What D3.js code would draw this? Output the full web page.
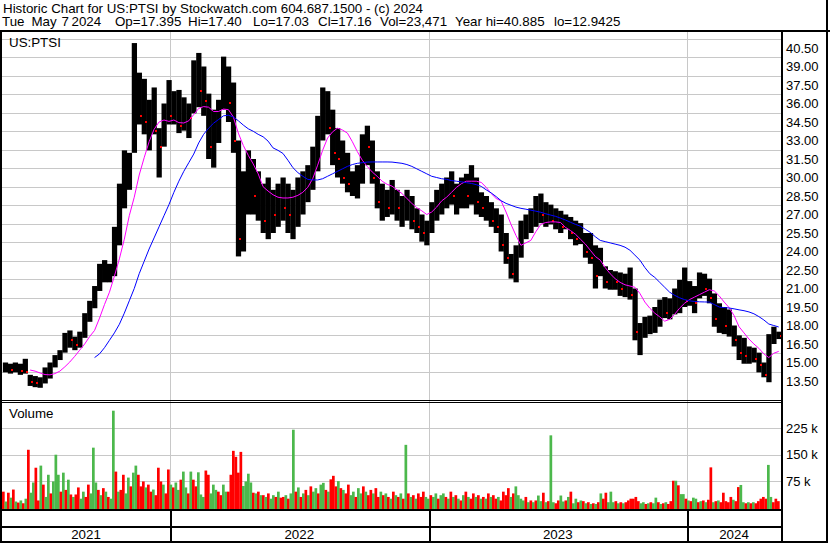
<!DOCTYPE html>
<html><head><meta charset="utf-8">
<script src="https://cdn.jsdelivr.net/npm/d3@7"></script>
<style>html,body{margin:0;padding:0;background:#fff;overflow:hidden}svg{display:block}</style>
</head><body><svg id="c" width="830" height="543"></svg>
<script>
// ---------------- DATA ----------------
const firstWeek = new Date(2021, 4, 10); // Monday of first weekly bar
const priceHigh = [15.0,14.9,15.0,14.9,15.3,14.0,13.9,13.8,14.6,15.0,
15.6,16.0,17.4,17.6,17.1,17.5,19.0,20.0,21.2,23.0,
23.3,23.0,26.0,29.5,32.2,32.0,40.9,38.5,38.0,36.3,
37.3,34.0,36.0,37.9,37.0,37.1,36.5,36.0,39.5,40.1,
39.0,36.8,35.5,36.3,39.8,39.0,37.7,33.0,30.5,32.2,
31.5,30.5,29.5,30.0,29.0,29.5,30.0,29.5,29.0,30.0,
30.5,31.0,32.5,35.0,37.3,37.0,35.5,34.0,33.0,32.0,
30.5,31.0,33.5,34.2,33.0,30.5,29.5,29.0,29.8,29.0,
28.5,29.0,28.5,27.5,27.0,26.5,28.0,29.0,29.5,30.0,
30.5,29.5,30.0,30.3,31.0,30.0,28.8,28.5,28.0,27.5,
27.0,25.5,23.8,24.5,26.5,27.0,27.5,28.5,28.7,28.0,
27.8,27.5,27.3,27.0,26.8,26.5,26.3,25.5,25.5,24.5,
24.3,22.8,22.5,22.4,22.3,22.2,22.7,21.0,18.2,18.7,
18.8,19.5,20.1,20.3,20.2,21.0,21.7,22.7,21.6,21.2,
22.3,22.2,21.8,20.6,19.8,19.5,19.3,18.0,17.2,17.0,
16.3,16.2,15.8,15.0,17.3,17.9,17.5];
const priceLow = [14.2,14.1,14.2,14.0,14.1,13.1,13.0,12.95,13.3,13.7,
14.6,15.2,15.8,16.2,16.0,16.2,17.0,18.3,19.4,20.8,
21.5,21.5,22.0,24.5,27.5,29.0,32.0,34.3,33.5,32.2,
33.5,30.0,32.5,34.3,34.3,33.6,33.8,33.2,35.2,35.7,
35.0,31.5,30.8,32.8,35.5,34.5,32.0,23.6,24.0,27.0,
27.0,26.5,25.5,25.0,25.5,26.0,26.5,25.5,25.0,26.0,
27.0,28.0,29.0,30.5,33.0,33.5,31.0,30.0,29.5,28.8,
28.5,28.3,29.5,31.0,29.5,27.5,26.5,26.8,27.0,26.5,
26.0,26.5,25.8,25.5,24.8,24.5,25.5,26.5,27.0,27.5,
27.8,27.0,27.5,27.5,27.8,27.0,26.8,26.5,26.0,25.5,
24.0,23.0,21.8,21.5,23.5,25.0,25.5,26.0,26.3,26.0,
26.2,25.8,25.5,25.8,25.0,24.5,24.6,23.5,23.0,21.0,
22.0,21.0,20.9,20.9,20.4,20.3,20.1,16.8,15.6,17.0,
17.3,17.4,17.9,18.6,18.5,18.9,19.0,19.5,19.6,19.0,
20.2,20.4,19.8,17.9,17.4,17.3,17.1,16.3,15.2,14.9,
14.9,15.0,14.2,13.8,13.4,16.5,16.9];
const priceClose = [14.5,14.4,14.6,14.3,14.2,13.4,13.3,13.5,14.3,14.8,
15.4,15.8,17.0,16.8,16.4,17.2,18.6,19.6,20.8,22.0,
22.0,22.2,25.5,28.5,30.0,31.5,35.5,35.0,34.5,35.5,
33.8,32.5,35.5,35.0,35.5,34.2,35.0,34.8,38.0,37.0,
36.2,32.5,33.8,35.5,37.5,36.0,33.0,25.0,29.5,30.0,
28.5,29.0,26.5,28.0,27.0,28.5,27.5,27.0,28.0,29.0,
29.5,30.0,32.0,34.5,35.0,34.0,32.0,31.5,30.0,29.5,
29.5,30.5,33.0,32.5,30.0,28.0,28.5,27.5,28.5,27.5,
27.5,27.8,26.5,26.0,25.5,25.8,27.5,28.0,28.8,29.0,
28.5,28.8,29.5,28.5,29.8,28.0,27.5,27.8,26.5,26.0,
24.5,23.5,22.2,24.0,26.0,26.0,26.8,28.0,27.0,27.0,
26.5,26.8,26.0,26.5,25.5,25.0,25.5,24.0,23.5,22.0,
22.5,21.5,22.0,21.5,21.0,21.8,20.5,17.5,17.5,17.8,
18.0,19.0,19.5,19.0,19.8,20.5,21.0,20.0,20.5,19.8,
21.5,21.0,20.2,18.5,18.8,18.0,18.5,16.8,15.8,15.5,
15.8,15.3,14.8,14.0,17.0,17.2,17.16];
const maFastFirstWeek = 5;
const maFast = [14.39,14.3,14.15,14.02,14.0,14.1,14.3,14.65,15.04,15.5,
16.0,16.5,17.1,17.6,18.6,19.7,20.7,22.0,23.4,25.0,
26.9,28.4,30.2,31.6,32.9,33.9,34.5,34.66,34.55,34.66,
34.45,34.42,34.6,35.1,35.6,35.75,35.7,35.35,35.35,35.55,
35.5,34.9,33.6,32.6,31.8,31.1,30.3,29.25,28.9,28.6,
28.4,28.34,28.34,28.4,28.55,28.8,29.2,29.9,31.0,32.2,
33.2,33.7,34.0,33.85,33.6,32.9,32.1,31.4,30.9,30.45,
30.1,29.7,29.45,29.3,29.0,28.7,28.3,27.9,27.55,27.3,
27.0,27.2,27.6,28.1,28.4,28.8,29.2,29.5,29.7,29.7,
29.7,29.6,29.2,28.7,28.3,28.1,27.2,26.2,25.3,24.5,
24.7,24.9,25.6,26.2,26.35,26.4,26.4,26.35,25.95,25.7,
25.4,25.0,24.6,24.1,23.6,23.3,22.7,22.2,21.8,21.5,
21.3,21.2,21.1,20.6,19.9,19.4,19.0,18.7,18.35,18.5,
18.9,19.4,19.8,20.1,20.3,20.5,20.7,20.9,20.8,20.4,
19.9,19.45,18.8,17.9,17.4,16.9,16.5,16.15,15.7,15.4,
15.75,15.9];
const maSlowFirstWeek = 18;
const maSlow = [15.4,15.7,16.2,16.8,17.4,18.1,19.0,20.0,21.0,22.2,
23.2,24.2,25.1,26.0,26.9,27.8,28.8,29.7,30.5,31.2,
31.9,32.8,33.5,34.0,34.4,34.7,35.0,35.05,34.9,34.6,
34.25,33.95,33.75,33.5,33.3,32.95,32.4,32.2,31.95,31.4,
30.8,30.4,30.1,29.85,29.8,29.8,29.9,30.1,30.3,30.5,
30.7,30.9,31.05,31.15,31.2,31.25,31.26,31.26,31.26,31.26,
31.25,31.2,31.15,31.05,30.9,30.7,30.5,30.3,30.1,30.0,
29.9,29.85,29.75,29.7,29.65,29.58,29.52,29.42,29.28,29.0,
28.75,28.45,28.12,27.9,27.75,27.6,27.5,27.43,27.35,27.27,
27.18,27.06,26.95,26.85,26.7,26.55,26.37,26.2,26.05,25.8,
25.55,25.2,24.9,24.8,24.7,24.6,24.5,24.35,24.1,23.7,
23.3,22.7,22.2,21.9,21.5,21.1,20.7,20.45,20.25,20.1,
20.0,19.95,19.92,19.91,19.9,19.7,19.5,19.45,19.42,19.35,
19.27,19.2,19.1,18.95,18.72,18.45,18.12,18.0,17.88];
// volume in thousands of shares (about two bars per week)
const volume = [45,17,42,28, 51,17,14,20, 12,25,164,42, 71,113,20,119, 65,30,93,40, 74,150,93,45,
99,50,79,37, 30,37,57,25, 45,30,65,40, 170,71,50,35, 55,45,30,25, 275,102,45,50, 93,40,85,60,
99,119,93,60, 74,57,65,45, 51,35,113,74, 65,40,108,65, 57,71,50,79, 102,57,40,102, 79,60,100,37,
30,105,93,40, 65,50,45,35, 65,45,45,93, 161,144,99,158, 61,74,96,71, 42,40,45,35, 35,30,40,25,
35,30,45,28, 30,35,25,40, 221,45,57,30, 40,50,35,60, 45,55,40,65, 70,50,45,80, 90,60,75,55,
50,40,65,35, 45,30,55,40, 60,45,35,50, 40,55,30,45, 35,40,30,25, 45,35,30,40, 25,178,40,30,
35,25,40,30, 45,30,25,35, 30,40,25,35, 40,30,25,45, 30,35,25,20, 35,45,30,25, 40,30,35,25,
30,25,40,30, 35,25,30,20, 45,35,55,30, 40,60,35,25, 20,30,15,20, 15,20,34,18, 42,15,18,205,
15,12,20,34, 17,20,30,45, 12,25,15,20, 18,12,15,10, 12,10,15,40, 25,42,15,45, 15,18,12,15,
12,15,20,25, 25,30,18,12, 15,10,12,15, 12,28,15,10, 12,15,10,18, 76,76,63,38, 38,25,20,18,
28,25,15,18, 20,15,22,114, 15,18,20,15, 42,18,15,30, 22,18,58,64, 15,12,15,12, 15,12,18,25,
30,25,121,30, 15,25,18];
// g = up day (green), r = down day (red)
const volumeDir = ("rgrg rgrg rgrg grrg rggr gggr grgr grrg grrg ggrg rgrg grgr rggr ggrr rgrr grrr " +
"grrg rggr ggrg rrgg grrg ggrr ggrr rrrr gggg rgrg rgrg grgr rgrg grgr grgr ggrg grgr rrgr grrg " +
"grgg rgrr grrg rgrg rgrg rgrg rgrr rggr ggrg grgr grgr grgr rgrg rgrg rrgr rrrg rggg grgr grgg " +
"rgrg grrg grgr ggrg rgrg rgrg rrgg grgr grrr rrrg grgr ggrg rgrr rgrg grgr ggrg rgrr grgr rrrr " +
"grrg grgr grrr rrgg rrr").replace(/ /g, "").split("");
const priceTicks = [40.5,39,37.5,36,34.5,33,31.5,30,28.5,27,25.5,24,22.5,21,19.5,18,16.5,15,13.5];
const volumeTicks = [75,150,225];
const yearLabels = ["2021","2022","2023","2024"];
const yearStarts = [new Date(2022,0,1), new Date(2023,0,1), new Date(2024,0,1)];
const titleLine = "Historic Chart for US:PTSI by Stockwatch.com 604.687.1500 - (c) 2024";
const infoTokens = ["Tue","May","7","2024","Op=17.395","Hi=17.40","Lo=17.03","Cl=17.16","Vol=23,471","Year hi=40.885","lo=12.9425"];
const infoX = [2,31.5,61.5,71.5,115,188,253,318,380,455,554];

// ---------------- LAYOUT ----------------
const FONT = '"Liberation Sans", Arial, Helvetica, sans-serif';
const L = 2, R = 781, PT = 31, PB = 400, VB = 509;
const svg = d3.select("#c");
svg.append("rect").attr("width", 830).attr("height", 543).attr("fill", "#fff");

const xTime = d3.scaleTime().domain([yearStarts[0], yearStarts[2]]).range([170, 687]);
const yP = d3.scaleLinear().domain([13.5, 40.5]).range([381, 48]);
const yV = d3.scaleLinear().domain([0, 225]).range([507.5, 428.3]);
const nV = Math.min(volume.length, volumeDir.length);
const xV = d3.scaleLinear().domain([0, nV]).range([L, 779.5]);
const weeks = priceHigh.map((_, i) => d3.timeDay.offset(firstWeek, 7 * i));
const wx0 = i => xTime(weeks[i]);
const wx1 = i => xTime(d3.timeDay.offset(weeks[i], 7));
const wxc = i => (wx0(i) + wx1(i)) / 2;

const defs = svg.append("defs");
defs.append("clipPath").attr("id", "cp").append("rect").attr("x", L).attr("y", PT).attr("width", R - L).attr("height", PB - PT);
defs.append("clipPath").attr("id", "cv").append("rect").attr("x", L).attr("y", 404).attr("width", R - L).attr("height", VB - 404);

// grid
const grid = svg.append("g").attr("stroke", "#c8c8c8").attr("stroke-width", 1).attr("shape-rendering", "crispEdges");
grid.selectAll(".hp").data(priceTicks).join("line")
  .attr("x1", L).attr("x2", R).attr("y1", d => Math.round(yP(d + 0.75)) + 0.5).attr("y2", d => Math.round(yP(d + 0.75)) + 0.5);
grid.selectAll(".hv").data(volumeTicks).join("line").attr("class", "hv")
  .attr("x1", L).attr("x2", R).attr("y1", d => Math.round(yV(d)) + 0.5).attr("y2", d => Math.round(yV(d)) + 0.5);
grid.selectAll(".vg").data(yearStarts).join("line").attr("class", "vg")
  .attr("x1", d => Math.round(xTime(d)) + 0.5).attr("x2", d => Math.round(xTime(d)) + 0.5)
  .attr("y1", PT).attr("y2", VB);

// price bars
const pg = svg.append("g").attr("clip-path", "url(#cp)");
pg.selectAll(".bar").data(priceHigh).join("rect").attr("class", "bar")
  .attr("x", (d, i) => wx0(i)).attr("width", (d, i) => wx1(i) - wx0(i) + 0.3)
  .attr("y", (d, i) => yP(priceHigh[i])).attr("height", (d, i) => Math.max(1, yP(priceLow[i]) - yP(priceHigh[i])))
  .attr("fill", "#000");
// red close markers on down weeks
pg.selectAll(".dot").data(priceClose.map((c, i) => ({c, i})).filter(d => d.i > 0 && d.c < priceClose[d.i - 1]))
  .join("rect").attr("class", "dot")
  .attr("x", d => Math.round(wxc(d.i)) + 1).attr("y", d => Math.round(yP(d.c)) - 1)
  .attr("width", 2).attr("height", 2).attr("fill", "#ff0000");
// moving averages
const line = d3.line().x(d => wxc(d.i)).y(d => yP(d.v));
pg.append("path").datum(maFast.map((v, j) => ({v, i: j + maFastFirstWeek})))
  .attr("d", line).attr("fill", "none").attr("stroke", "#ff00ff").attr("stroke-width", 1);
pg.append("path").datum(maSlow.map((v, j) => ({v, i: j + maSlowFirstWeek})))
  .attr("d", line).attr("fill", "none").attr("stroke", "#0000ff").attr("stroke-width", 1);

// volume bars
const vg = svg.append("g").attr("clip-path", "url(#cv)");
vg.selectAll("rect").data(volume.slice(0, nV)).join("rect")
  .attr("x", (d, j) => xV(j)).attr("width", (d, j) => xV(j + 1) - xV(j) + 0.2)
  .attr("y", d => yV(d)).attr("height", d => VB - yV(d))
  .attr("fill", (d, j) => volumeDir[j] === "g" ? "#4cb84c" : "#ff0000");

// axes labels (right)
function styleAxis(g) {
  g.select(".domain").remove();
  g.selectAll("text").attr("font-family", FONT).attr("font-size", 13).attr("fill", "#000").attr("text-anchor", "start");
}
svg.append("g").attr("transform", "translate(786,0)")
  .call(d3.axisRight(yP).tickValues(priceTicks).tickFormat(d3.format(".2f")).tickSize(0).tickPadding(0))
  .call(styleAxis);
svg.append("g").attr("transform", "translate(786,0)")
  .call(d3.axisRight(yV).tickValues(volumeTicks).tickFormat(d => d + " k").tickSize(0).tickPadding(0))
  .call(styleAxis);

// year labels
const yrEdges = [L, ...yearStarts.map(xTime), R];
svg.selectAll(".yl").data(yearLabels).join("text").attr("class", "yl")
  .attr("x", (d, i) => (yrEdges[i] + yrEdges[i + 1]) / 2).attr("y", 539)
  .attr("text-anchor", "middle").attr("font-family", FONT).attr("font-size", 13.33).attr("fill", "#000").text(d => d);

// panel titles
svg.append("text").attr("x", 9).attr("y", 47).attr("font-family", FONT).attr("font-size", 13.33).text("US:PTSI");
svg.append("text").attr("x", 9).attr("y", 418).attr("font-family", FONT).attr("font-size", 13.33).text("Volume");

// header
svg.append("text").attr("x", 3).attr("y", 12.5).attr("font-family", FONT).attr("font-size", 13.33).text(titleLine);
svg.selectAll(".info").data(infoTokens).join("text").attr("class", "info")
  .attr("x", (d, i) => infoX[i]).attr("y", 26).attr("font-family", FONT).attr("font-size", 13.33).text(d => d);

// frame lines
const fr = svg.append("g").attr("fill", "#000").attr("shape-rendering", "crispEdges");
fr.append("rect").attr("x", 0).attr("y", 29.5).attr("width", 830).attr("height", 2);
fr.append("rect").attr("x", 0).attr("y", 30).attr("width", 2).attr("height", 513);
fr.append("rect").attr("x", R).attr("y", 30).attr("width", 2).attr("height", 513);
fr.append("rect").attr("x", 826).attr("y", 0).attr("width", 2).attr("height", 543);
fr.append("rect").attr("x", 0).attr("y", 400).attr("width", R).attr("height", 1);
fr.append("rect").attr("x", 0).attr("y", 402).attr("width", R).attr("height", 1);
fr.append("rect").attr("x", 0).attr("y", VB).attr("width", R).attr("height", 2);
fr.append("rect").attr("x", 0).attr("y", 526).attr("width", R).attr("height", 2);
fr.append("rect").attr("x", 0).attr("y", 541).attr("width", 828).attr("height", 2);
fr.selectAll(".yd").data(yearStarts).join("rect").attr("class", "yd")
  .attr("x", d => Math.round(xTime(d))).attr("y", VB).attr("width", 2).attr("height", 541 - VB);
</script>
</body></html>
